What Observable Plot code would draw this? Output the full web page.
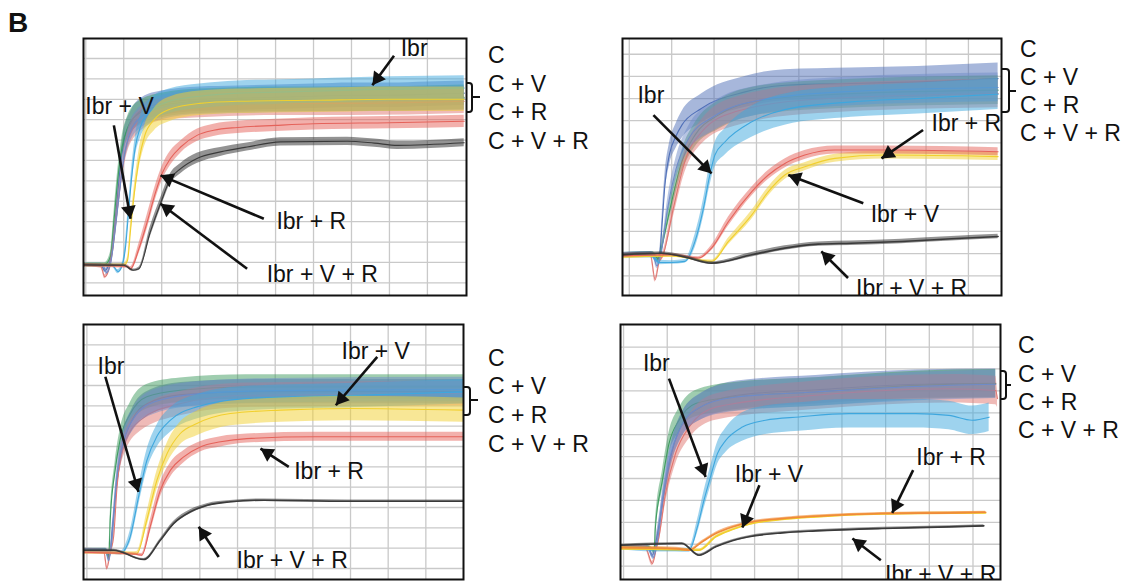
<!DOCTYPE html>
<html><head><meta charset="utf-8">
<script src="https://cdn.jsdelivr.net/npm/d3@7"></script>
<script src="https://cdn.jsdelivr.net/npm/@observablehq/plot@0.6"></script>
<style>
body{margin:0;background:#fff;}
#fig{position:relative;width:1131px;height:586px;background:#fff;font-family:"Liberation Sans",Arial,sans-serif;color:#111;overflow:hidden}
.panel{position:absolute}
.panel svg{overflow:visible;display:block}
.lbl{position:absolute;font-size:23px;line-height:23px;white-space:nowrap}
.brace{position:absolute;border:2px solid #111;border-left:none;border-radius:0 4px 4px 0;box-sizing:border-box}
.tick{position:absolute;height:2px;background:#111}
.big{position:absolute;font-weight:bold;font-size:28px;line-height:28px}
</style></head><body><div id="fig"></div>
<script>
// ---------- series names / colours ----------
const seriesNames = ["C", "C + V", "C + R", "C + V + R", "Ibr", "Ibr + V", "Ibr + R", "Ibr + V + R"];
const sideLabels = ["C", "C + V", "C + R", "C + V + R"];

// each point: [time (grid units), aggregation (grid units), noise half-amplitude]
// ---------- panel 1 (top left) ----------
const p1_C = [[-1.06,0.88,0.08],[-0.6,0.88,0.08],[-0.5,0.6,0.1],[-0.4,0.85,0.1],[-0.3,1.6,0.3],[-0.2,3.5,0.4],[-0.1,5.5,0.45],[0,6.9,0.5],[0.2,7.9,0.55],[0.5,8.5,0.6],[1,8.8,0.6],[2,9.0,0.6],[3,9.05,0.6],[4,9.1,0.6],[5,9.15,0.6],[6,9.2,0.6],[7,9.2,0.6],[8,9.25,0.6],[8.97,9.3,0.6]];
const p1_CV = [[-1.06,0.9,0.08],[-0.5,0.9,0.08],[-0.35,1.3,0.2],[-0.25,3.2,0.4],[-0.15,5.2,0.45],[-0.05,6.6,0.5],[0.1,7.6,0.55],[0.4,8.3,0.6],[1,8.7,0.6],[2,8.9,0.6],[4,9.0,0.6],[6,9.0,0.6],[8.97,9.1,0.6]];
const p1_CR = [[-1.06,0.88,0.08],[-0.6,0.8,0.08],[-0.5,0.3,0.1],[-0.4,0.6,0.1],[-0.3,1.5,0.3],[-0.18,3.4,0.4],[-0.05,5.4,0.45],[0.1,6.9,0.5],[0.4,7.9,0.55],[1,8.5,0.55],[2,8.7,0.6],[4,8.8,0.6],[6,8.8,0.6],[8.97,8.9,0.6]];
const p1_CVR = [[-1.06,0.86,0.08],[-0.55,0.86,0.08],[-0.45,0.5,0.1],[-0.35,0.9,0.1],[-0.25,2.2,0.3],[-0.12,4.3,0.4],[0,6.1,0.45],[0.15,7.3,0.5],[0.5,8.2,0.55],[1,8.6,0.6],[2,8.85,0.6],[4,8.95,0.6],[6,9.0,0.6],[8.97,9.05,0.6]];
const p1_Ibr = [[-1.06,0.85,0.08],[-0.3,0.85,0.08],[-0.15,0.55,0.1],[-0.05,0.8,0.1],[0.05,1.8,0.3],[0.12,3.3,0.4],[0.2,5.0,0.45],[0.3,6.6,0.5],[0.45,7.7,0.55],[0.7,8.4,0.6],[1.2,8.9,0.6],[2,9.15,0.6],[3,9.3,0.6],[4,9.35,0.6],[5,9.4,0.6],[6,9.45,0.6],[7,9.5,0.6],[8.97,9.55,0.6]];
const p1_IbrV = [[-1.06,0.86,0.08],[0,0.86,0.08],[0.1,1.1,0.15],[0.18,2.6,0.35],[0.28,4.4,0.4],[0.4,6.0,0.45],[0.55,7.2,0.5],[0.8,8.0,0.55],[1.2,8.5,0.6],[2,8.8,0.6],[3,8.9,0.6],[5,8.95,0.6],[7,9.0,0.6],[8.97,9.0,0.6]];
const p1_IbrR = [[-1.06,0.86,0.08],[0.1,0.8,0.08],[0.18,0.69,0.1],[0.4,1.67,0.25],[0.62,3.0,0.35],[0.84,4.45,0.35],[1.01,5.36,0.35],[1.23,6.1,0.35],[1.5,6.66,0.3],[1.93,7.23,0.3],[2.37,7.48,0.3],[3,7.62,0.3],[4,7.72,0.3],[5,7.8,0.3],[7,7.85,0.3],[8.97,7.92,0.3]];
const p1_IbrVR = [[-1.06,0.88,0.06],[0,0.86,0.06],[0.25,0.62,0.06],[0.4,0.69,0.08],[0.7,2.5,0.25],[0.97,3.9,0.25],[1.23,5.1,0.25],[1.5,5.6,0.25],[1.93,6.1,0.25],[2.55,6.42,0.22],[3.25,6.66,0.2],[4.13,6.91,0.2],[5.89,6.94,0.2],[6.6,6.85,0.2],[7.21,6.74,0.2],[8.97,6.87,0.2]];
// [label, text x, text y, arrow from x, from y, to x, to y]
const p1_notes = [["Ibr",7.65,11.46,7.12,11.13,6.55,9.69],["Ibr + V",-0.11,8.62,-0.26,7.72,0.18,3.14],["Ibr + R",4.94,3.01,3.69,3.14,0.97,5.27],["Ibr + V + R",5.23,0.39,3.25,0.69,0.97,3.88]];
const p1_gridX = [-1,0,1,2,3,4,5,6,7,8];
const p1_gridY = [0,1,2,3,4,5,6,7,8,9,10,11];

// ---------- panel 2 (top right) ----------
const p2_C = [[-1.16,0.95,0.1],[-0.5,1.0,0.1],[-0.35,0.7,0.12],[-0.28,1.0,0.15],[-0.22,2.5,0.4],[-0.16,4.1,0.45],[-0.05,5.5,0.5],[0.1,6.3,0.55],[0.24,6.8,0.6],[0.7,7.55,0.65],[1.73,8.3,0.7],[2.67,8.6,0.7],[4.24,8.68,0.7],[5.81,8.75,0.7],[7.7,8.9,0.7]];
const p2_CV = [[-1.16,0.95,0.1],[-0.45,1.0,0.1],[-0.3,0.75,0.12],[-0.24,1.25,0.2],[0,3.35,0.4],[0.24,5.15,0.5],[0.55,6.35,0.55],[1.1,7.25,0.65],[1.89,7.85,0.65],[3.46,8.15,0.65],[7.7,8.38,0.65]];
const p2_CR = [[-1.16,0.95,0.1],[-0.5,0.95,0.1],[-0.39,-0.18,0.1],[-0.3,0.6,0.12],[-0.2,0.95,0.15],[0.04,3.05,0.4],[0.31,5.15,0.5],[0.71,6.5,0.55],[1.49,7.4,0.65],[3.46,7.98,0.65],[7.7,8.23,0.65]];
const p2_CVR = [[-1.16,0.95,0.1],[-0.45,1.0,0.1],[-0.35,0.45,0.12],[-0.25,1.0,0.15],[-0.1,3.0,0.4],[0.1,4.8,0.5],[0.4,6.2,0.55],[1,7.2,0.65],[2,7.9,0.65],[4,8.3,0.65],[7.7,8.5,0.65]];
const p2_Ibr = [[-1.16,0.9,0.1],[-0.47,0.9,0.1],[-0.3,0.6,0.1],[0,0.6,0.08],[0.31,0.65,0.08],[0.55,1.55,0.3],[0.75,3.05,0.4],[0.9,4.55,0.5],[1.02,5.45,0.55],[1.26,6.05,0.6],[1.89,6.95,0.7],[2.67,7.5,0.7],[4.24,7.85,0.7],[5.81,8.0,0.7],[7.7,8.2,0.7]];
const p2_IbrV = [[-1.16,0.85,0.08],[0,0.9,0.06],[0.94,0.65,0.06],[1.34,1.55,0.15],[1.89,2.75,0.2],[2.28,3.8,0.2],[2.67,4.55,0.2],[3.14,4.92,0.18],[3.85,5.3,0.18],[5.03,5.45,0.18],[7.7,5.38,0.18]];
const p2_IbrR = [[-1.16,0.9,0.08],[0,0.95,0.06],[0.63,0.8,0.06],[0.94,1.25,0.12],[1.34,2.45,0.2],[1.89,3.8,0.2],[2.28,4.55,0.2],[2.67,5.07,0.2],[3.14,5.45,0.2],[3.85,5.68,0.18],[5.03,5.68,0.18],[7.7,5.6,0.18]];
const p2_IbrVR = [[-1.16,0.95,0.06],[-0.24,1.02,0.06],[0.31,0.85,0.06],[0.94,0.57,0.06],[1.89,0.95,0.1],[2.67,1.25,0.1],[3.46,1.43,0.1],[4.24,1.47,0.1],[5.42,1.55,0.1],[6.6,1.67,0.1],[7.7,1.77,0.1]];
const p2_notes = [["Ibr",-0.49,8.15,-0.43,7.25,0.94,4.62],["Ibr + R",6.95,6.88,5.93,6.58,4.95,5.3],["Ibr + V",5.5,2.78,4.52,3.27,2.75,4.55],["Ibr + V + R",5.66,-0.59,4.16,-0.1,3.53,1.1]];
const p2_gridX = [-1,0,1,2,3,4,5,6,7];
const p2_gridY = [0,1,2,3,4,5,6,7,8,9,10];

// ---------- panel 3 (bottom left) ----------
const p3_C = [[-1.09,0.9,0.1],[-0.48,0.9,0.1],[-0.4,0.6,0.1],[-0.32,2.0,0.3],[-0.2,4.3,0.4],[-0.05,6.0,0.5],[0.2,7.3,0.55],[0.6,8.1,0.6],[1.5,8.55,0.6],[3.5,8.7,0.6],[9.0,8.7,0.6]];
const p3_CV = [[-1.09,0.9,0.1],[-0.5,0.9,0.1],[-0.42,0.5,0.1],[-0.38,2.38,0.3],[-0.25,4.84,0.4],[-0.12,6.3,0.5],[0.15,7.6,0.55],[0.59,8.45,0.6],[1.48,8.77,0.6],[3.25,8.93,0.6],[9.0,8.93,0.6]];
const p3_CR = [[-1.09,0.9,0.1],[-0.55,0.85,0.1],[-0.47,0.0,0.1],[-0.38,0.8,0.15],[-0.29,1.56,0.3],[-0.2,4.0,0.4],[-0.03,5.98,0.5],[0.42,7.3,0.55],[1.48,8.11,0.6],[3.25,8.52,0.6],[9.0,8.61,0.6]];
const p3_CVR = [[-1.09,0.88,0.1],[-0.5,0.88,0.1],[-0.42,0.4,0.1],[-0.33,1.5,0.3],[-0.22,4.2,0.4],[-0.08,5.9,0.5],[0.25,7.4,0.55],[0.8,8.2,0.6],[2,8.6,0.6],[4,8.75,0.6],[9,8.8,0.6]];
const p3_Ibr = [[-1.09,0.85,0.1],[-0.3,0.8,0.1],[-0.12,0.74,0.08],[0.15,1.56,0.3],[0.37,3.5,0.45],[0.59,5.3,0.5],[0.86,6.5,0.55],[1.22,7.3,0.6],[1.92,7.95,0.6],[3.25,8.36,0.6],[5.92,8.5,0.6],[9.0,8.69,0.6]];
const p3_IbrV = [[-1.09,0.8,0.1],[0.2,0.75,0.08],[0.33,0.74,0.1],[0.59,2.38,0.35],[0.86,4.34,0.45],[1.13,5.66,0.5],[1.48,6.64,0.55],[1.92,7.13,0.6],[2.81,7.62,0.6],[4.14,7.79,0.6],[5.92,7.87,0.6],[9.0,7.79,0.6]];
const p3_IbrR = [[-1.09,0.8,0.08],[0.3,0.7,0.06],[0.46,0.66,0.08],[0.68,2.05,0.3],[0.95,3.85,0.35],[1.22,4.84,0.35],[1.57,5.49,0.3],[2.01,5.98,0.25],[2.55,6.23,0.25],[3.25,6.39,0.22],[5.03,6.48,0.22],[9.0,6.48,0.22]];
const p3_IbrVR = [[-1.09,0.9,0.06],[-0.29,0.9,0.05],[0.51,0.44,0.05],[0.95,1.39,0.08],[1.3,2.21,0.1],[1.75,2.79,0.1],[2.19,3.11,0.08],[2.81,3.28,0.06],[3.7,3.36,0.06],[5.92,3.31,0.06],[9.0,3.31,0.06]];
const p3_notes = [["Ibr",-0.36,9.95,-0.51,9.43,0.37,3.77],["Ibr + V",6.67,10.66,6.71,10.41,5.61,8.03],["Ibr + R",5.43,4.75,4.36,5.0,3.61,5.9],["Ibr + V + R",4.45,0.38,2.5,0.57,1.97,2.05]];
const p3_gridX = [-1,0,1,2,3,4,5,6,7,8];
const p3_gridY = [0,1,2,3,4,5,6,7,8,9,10,11];

// ---------- panel 4 (bottom right) ----------
const p4_C = [[-1.07,0.88,0.1],[-0.45,0.9,0.1],[-0.34,0.5,0.1],[-0.22,1.5,0.3],[-0.05,3.6,0.45],[0.12,5.3,0.5],[0.35,6.5,0.55],[0.8,7.3,0.6],[1.6,7.8,0.65],[3.4,8.05,0.65],[5.69,8.3,0.65],[7.52,8.35,0.65]];
const p4_CV = [[-1.07,0.88,0.1],[-0.45,0.9,0.1],[-0.3,0.7,0.1],[-0.27,1.79,0.3],[-0.11,3.92,0.45],[0.04,5.59,0.5],[0.27,6.66,0.55],[0.65,7.42,0.6],[1.49,7.72,0.65],[3.4,7.95,0.65],[5.69,8.25,0.65],[7.52,8.33,0.65]];
const p4_CR = [[-1.07,0.88,0.1],[-0.5,0.85,0.1],[-0.34,0.12,0.1],[-0.25,0.8,0.15],[-0.19,1.34,0.3],[-0.04,3.31,0.45],[0.19,5.14,0.5],[0.5,6.35,0.55],[1.11,7.26,0.6],[3.4,7.8,0.65],[6.45,8.1,0.65],[7.52,8.02,0.65],[7.56,7.64,0.4]];
const p4_CVR = [[-1.07,0.86,0.1],[-0.45,0.86,0.1],[-0.32,0.4,0.1],[-0.22,1.2,0.3],[-0.08,3.4,0.45],[0.08,5.1,0.5],[0.3,6.3,0.55],[0.7,7.2,0.6],[1.5,7.7,0.65],[3.4,7.95,0.65],[5.7,8.2,0.65],[7.52,8.3,0.65]];
const p4_Ibr = [[-1.07,0.85,0.1],[-0.3,0.75,0.1],[0.19,0.73,0.08],[0.5,0.73,0.1],[0.69,1.79,0.3],[0.84,3.0,0.4],[0.99,4.07,0.45],[1.15,5.14,0.5],[1.34,5.74,0.55],[1.72,6.35,0.65],[2.25,6.66,0.65],[3.02,6.81,0.65],[4.16,6.96,0.65],[5.69,6.96,0.65],[6.45,6.88,0.65],[6.98,6.66,0.65],[7.37,6.8,0.65]];
const p4_IbrV = [[-1.07,0.8,0.08],[0.3,0.75,0.06],[0.73,0.73,0.06],[1.11,1.34,0.06],[1.49,1.67,0.05],[1.87,1.91,0.05],[2.63,2.13,0.05],[3.4,2.25,0.05],[4.92,2.38,0.05],[7.29,2.43,0.05]];
const p4_IbrR = [[-1.07,0.85,0.08],[0.2,0.8,0.06],[0.5,0.73,0.06],[0.8,1.11,0.06],[1.11,1.49,0.06],[1.49,1.79,0.05],[1.87,1.99,0.05],[2.63,2.17,0.05],[3.4,2.28,0.05],[4.92,2.4,0.05],[6.45,2.43,0.05],[7.29,2.46,0.05]];
const p4_IbrVR = [[-1.07,0.95,0.05],[0.34,1.03,0.05],[0.73,0.5,0.05],[1.11,0.88,0.05],[1.49,1.16,0.05],[1.87,1.34,0.05],[2.63,1.52,0.05],[3.4,1.61,0.05],[4.92,1.72,0.05],[6.45,1.79,0.05],[7.25,1.84,0.05]];
const p4_notes = [["Ibr",-0.25,9.24,0.04,8.56,0.88,4.07],["Ibr + V",2.33,4.19,2.11,3.69,1.72,1.76],["Ibr + R",6.5,4.95,5.63,4.38,5.15,2.43],["Ibr + V + R",6.26,-0.38,4.89,0.27,4.24,1.26]];
const p4_gridX = [-1,0,1,2,3,4,5,6,7];
const p4_gridY = [0,1,2,3,4,5,6,7,8,9,10];

// ---------- styling / layout ----------
const colorsA = ["#4f6fb8", "#3f9c60", "#e07570", "#6f8bc8", "#3ea7de", "#f1cf2e", "#e5625a", "#3a3a3a"];
const colorsB = ["#4f6fb8", "#3f9c60", "#e07570", "#6f8bc8", "#3ea7de", "#f1cf2e", "#f08a3a", "#3a3a3a"];
const FONT = "Liberation Sans, Arial, sans-serif";

const panels = [
  {left: 83, top: 38, width: 383, height: 257, xd: [-1.06, 9.03], yd: [-0.62, 11.98], gx: p1_gridX, gy: p1_gridY,
   series: [p1_C, p1_CV, p1_CR, p1_CVR, p1_Ibr, p1_IbrV, p1_IbrR, p1_IbrVR], notes: p1_notes, colors: colorsA},
  {left: 622, top: 38, width: 379, height: 257, xd: [-1.16, 7.78], yd: [-0.89, 10.71], gx: p2_gridX, gy: p2_gridY,
   series: [p2_C, p2_CV, p2_CR, p2_CVR, p2_Ibr, p2_IbrV, p2_IbrR, p2_IbrVR], notes: p2_notes, colors: colorsA},
  {left: 83, top: 324, width: 380, height: 255, xd: [-1.09, 9.0], yd: [-0.54, 12.0], gx: p3_gridX, gy: p3_gridY,
   series: [p3_C, p3_CV, p3_CR, p3_CVR, p3_Ibr, p3_IbrV, p3_IbrR, p3_IbrVR], notes: p3_notes, colors: colorsA},
  {left: 620, top: 324, width: 380, height: 255, xd: [-1.07, 7.63], yd: [-0.61, 11.03], gx: p4_gridX, gy: p4_gridY,
   series: [p4_C, p4_CV, p4_CR, p4_CVR, p4_Ibr, p4_IbrV, p4_IbrR, p4_IbrVR], notes: p4_notes, colors: colorsB}
];

const sideGroups = [
  {left: 488, centers: [55, 84, 112, 141], brace: [466, 82, 7, 31, 97, 480]},
  {left: 1020, centers: [49, 76.7, 105, 133.3], brace: [1002, 68, 8, 45, 91, 1016]},
  {left: 488, centers: [358, 386, 415, 444], brace: [464, 386, 7, 30, 400, 478]},
  {left: 1018, centers: [345.5, 374, 402.5, 430], brace: [1001, 370, 6, 30, 385, 1011]}
];

const fig = document.getElementById("fig");

function renderPanel(p) {
  const kx = p.width / (p.xd[1] - p.xd[0]);
  const ky = p.height / (p.yd[1] - p.yd[0]);
  const marks = [
    Plot.ruleX(p.gx, {stroke: "#c9c9c9", strokeWidth: 1.3}),
    Plot.ruleY(p.gy, {stroke: "#c9c9c9", strokeWidth: 1.3})
  ];
  p.series.forEach((s, i) => {
    const rows = s.map(([x, y, n]) => ({x, y, lo: y - n, hi: y + n, name: seriesNames[i]}));
    const noisy = d3.max(s, d => d[2]) > 0.15;
    marks.push(Plot.areaY(rows, {x: "x", y1: "lo", y2: "hi", fill: p.colors[i],
      fillOpacity: i === 7 ? 0.55 : (noisy ? 0.5 : 0.6), curve: "monotone-x", clip: true}));
    marks.push(Plot.line(rows, {x: "x", y: "y", stroke: p.colors[i],
      strokeWidth: noisy ? 1.1 : 1.6, curve: "monotone-x", clip: true}));
  });
  // annotations
  const notes = p.notes.map(([label, tx, ty, x1, y1, x2, y2]) => {
    const sx = (x2 - x1) * kx, sy = -(y2 - y1) * ky;
    const L = Math.hypot(sx, sy);
    const ux = sx / L, uy = sy / L;
    const back = 8.5; // distance from tip to triangle centre in px
    return {label, tx, ty, x1, y1, x2, y2,
      hx: x2 - ux * back / kx, hy: y2 + uy * back / ky,
      ang: Math.atan2(sx, -sy) * 180 / Math.PI};
  });
  marks.push(Plot.link(notes, {x1: "x1", y1: "y1", x2: "x2", y2: "y2", stroke: "#111", strokeWidth: 2.6}));
  marks.push(Plot.dot(notes, {x: "hx", y: "hy", symbol: "triangle", r: 5.5, rotate: "ang", fill: "#111", stroke: "none"}));
  marks.push(Plot.text(notes, {x: "tx", y: "ty", text: "label", fontSize: 23, fontFamily: FONT, fill: "#111", clip: true}));
  marks.push(Plot.frame({stroke: "#111", strokeWidth: 2}));

  const chart = Plot.plot({
    width: p.width, height: p.height,
    marginLeft: 0, marginRight: 0, marginTop: 0, marginBottom: 0,
    x: {domain: p.xd, axis: null},
    y: {domain: p.yd, axis: null},
    style: {overflow: "visible", background: "transparent", fontFamily: FONT},
    marks
  });
  const div = document.createElement("div");
  div.className = "panel";
  div.style.left = p.left + "px";
  div.style.top = p.top + "px";
  div.style.width = p.width + "px";
  div.style.height = p.height + "px";
  div.appendChild(chart);
  fig.appendChild(div);
}

panels.forEach(renderPanel);

sideGroups.forEach(g => {
  sideLabels.forEach((t, i) => {
    const d = document.createElement("div");
    d.className = "lbl";
    d.textContent = t;
    d.style.left = g.left + "px";
    d.style.top = (g.centers[i] - 11.2) + "px";
    fig.appendChild(d);
  });
  const [bx, by, bw, bh, ty, tx] = g.brace;
  const b = document.createElement("div");
  b.className = "brace";
  Object.assign(b.style, {left: bx + "px", top: by + "px", width: bw + "px", height: bh + "px"});
  fig.appendChild(b);
  const t = document.createElement("div");
  t.className = "tick";
  Object.assign(t.style, {left: (bx + bw - 1) + "px", top: (ty - 1) + "px", width: (tx - bx - bw + 1) + "px"});
  fig.appendChild(t);
});

const B = document.createElement("div");
B.className = "big";
B.textContent = "B";
B.style.left = "8px";
B.style.top = "9px";
fig.appendChild(B);
</script></body></html>
